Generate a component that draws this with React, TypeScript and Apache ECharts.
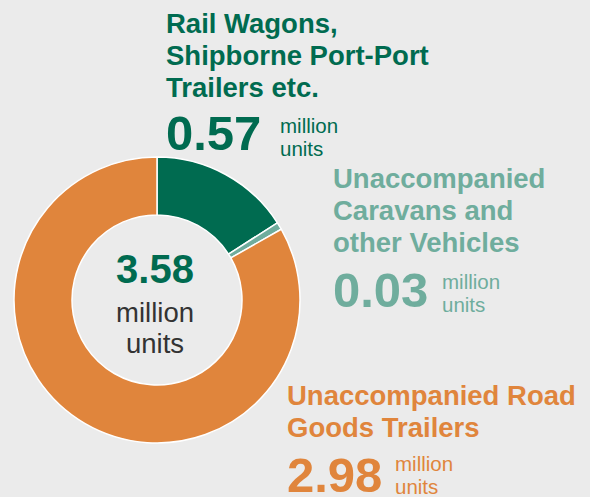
import React, { useEffect, useRef } from "react";
import * as echarts from "echarts";

const categories = [
  "Rail Wagons, Shipborne Port-Port Trailers etc.",
  "Unaccompanied Caravans and other Vehicles",
  "Unaccompanied Road Goods Trailers",
];
const values = [0.57, 0.03, 2.98];
const valueLabels = ["0.57", "0.03", "2.98"];
const titleLines = [
  ["Rail Wagons,", "Shipborne Port-Port", "Trailers etc."],
  ["Unaccompanied", "Caravans and", "other Vehicles"],
  ["Unaccompanied Road", "Goods Trailers"],
];
const totalLabel = "3.58";
const unitLabel = "million\nunits";
const colors = ["#006b50", "#6fad9d", "#e0853c"];

const FONT = "'Liberation Sans', Arial, sans-serif";

export default function App() {
  const ref = useRef<HTMLDivElement>(null);
  useEffect(() => {
    if (!ref.current) return;
    const chart = echarts.init(ref.current, null, { renderer: "svg" });
    const titleStyle = (color: string) => ({
      fontFamily: FONT,
      fontWeight: "bold" as const,
      fontSize: 27.5,
      lineHeight: 32,
      fill: color,
      verticalAlign: "top" as const,
    });
    const big = (color: string) => ({
      fontFamily: FONT,
      fontWeight: "bold" as const,
      fontSize: 49,
      fill: color,
      verticalAlign: "top" as const,
    });
    const small = (color: string) => ({
      fontFamily: FONT,
      fontSize: 20.5,
      lineHeight: 23,
      fill: color,
      verticalAlign: "top" as const,
    });
    // layout positions per label block: [titleX, titleTop, valueTop, unitsX, unitsTop]
    const pos = [
      [166, 7.5, 108.5, 280, 113.5],
      [333, 162.5, 265.5, 442, 269.5],
      [287, 379.5, 450.5, 395, 451.5],
    ];
    const blocks: any[] = [];
    pos.forEach((p, i) => {
      blocks.push(
        {
          type: "text",
          x: p[0],
          y: p[1],
          style: { text: titleLines[i].join("\n"), ...titleStyle(colors[i]) },
        },
        {
          type: "text",
          x: p[0],
          y: p[2],
          style: { text: valueLabels[i], ...big(colors[i]) },
        },
        {
          type: "text",
          x: p[3],
          y: p[4],
          style: { text: unitLabel, ...small(colors[i]) },
        }
      );
    });
    chart.setOption({
      animation: false,
      backgroundColor: "#ebebeb",
      series: [
        {
          type: "pie",
          center: [157, 300],
          radius: [85, 143],
          startAngle: 90,
          clockwise: true,
          label: { show: false },
          labelLine: { show: false },
          itemStyle: { borderColor: "#ffffff", borderWidth: 1.5 },
          emphasis: { disabled: true },
          data: categories.map((c, i) => ({
            name: c,
            value: values[i],
            itemStyle: { color: colors[i] },
          })),
        },
      ],
      graphic: [
        {
          type: "text",
          x: 155,
          y: 249,
          style: {
            text: totalLabel,
            fontFamily: FONT,
            fontWeight: "bold",
            fontSize: 40,
            fill: colors[0],
            textAlign: "center",
            verticalAlign: "top",
          },
        },
        {
          type: "text",
          x: 155,
          y: 297,
          style: {
            text: unitLabel,
            fontFamily: FONT,
            fontSize: 27.5,
            lineHeight: 31,
            fill: "#333333",
            textAlign: "center",
            verticalAlign: "top",
          },
        },
        ...blocks,
      ],
    });
    return () => chart.dispose();
  }, []);
  return (
    <div
      ref={ref}
      style={{ position: "absolute", left: 0, top: 0, width: 590, height: 497 }}
    />
  );
}
